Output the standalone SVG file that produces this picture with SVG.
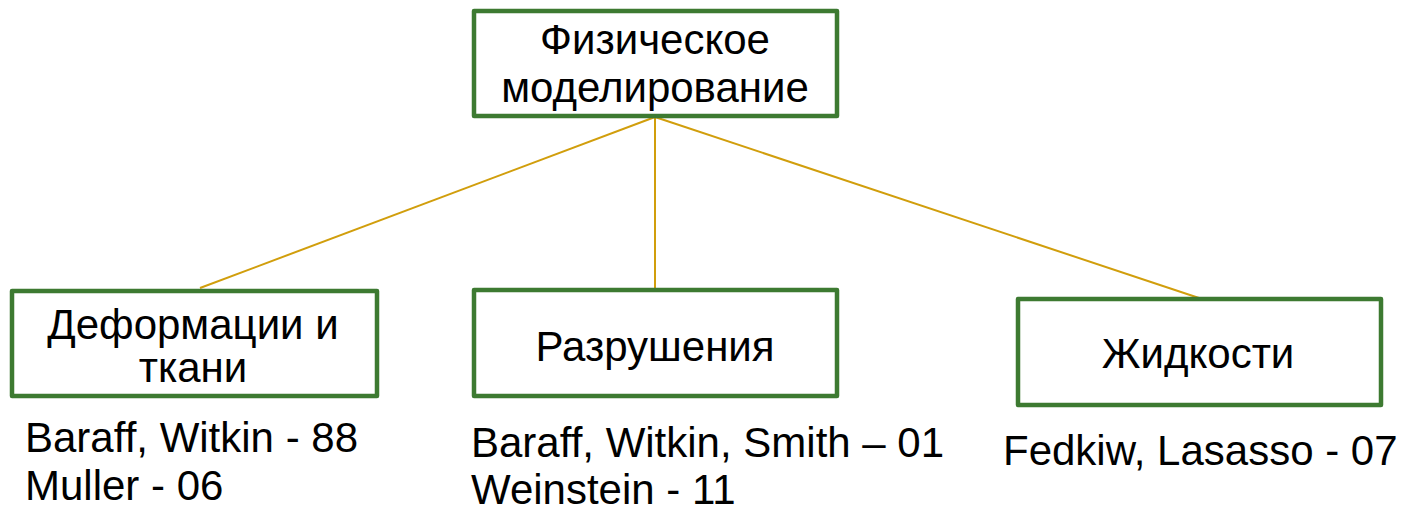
<svg xmlns="http://www.w3.org/2000/svg" width="1406" height="513" viewBox="0 0 1406 513">
<style>
.box{fill:#fff;stroke:#3D7A31;stroke-width:4.5;stroke-linejoin:round}
.t{font-family:"Liberation Sans",Arial,sans-serif;font-size:42px;fill:#000}
.c{text-anchor:middle}
.ln{stroke:#D19E0C;stroke-width:2;fill:none}
</style>
<rect width="1406" height="513" fill="#fff"/>
<g id="connectors">
<line class="ln" x1="655" y1="117" x2="200" y2="288"/>
<line class="ln" x1="655" y1="117" x2="655" y2="289"/>
<line class="ln" x1="655" y1="117" x2="1199" y2="298"/>
</g>
<g id="root">
<rect class="box" x="474" y="11" width="363" height="105"/>
<text class="t c" x="655" y="54">Физическое</text>
<text class="t c" x="655" y="102">моделирование</text>
</g>
<g id="deform">
<rect class="box" x="12" y="291" width="365" height="105"/>
<text class="t c" x="193" y="339">Деформации и</text>
<text class="t c" x="193" y="382">ткани</text>
</g>
<g id="fracture">
<rect class="box" x="474" y="290" width="363" height="106"/>
<text class="t c" x="655" y="361">Разрушения</text>
</g>
<g id="fluids">
<rect class="box" x="1018" y="299" width="363" height="106"/>
<text class="t c" x="1198" y="368">Жидкости</text>
</g>
<g id="refs">
<text class="t" x="25" y="452">Baraff, Witkin - 88</text>
<text class="t" x="25" y="500">Muller - 06</text>
<text class="t" x="471" y="457">Baraff, Witkin, Smith – 01</text>
<text class="t" x="471" y="504">Weinstein - 11</text>
<text class="t" x="1003" y="465">Fedkiw, Lasasso - 07</text>
</g>
</svg>
